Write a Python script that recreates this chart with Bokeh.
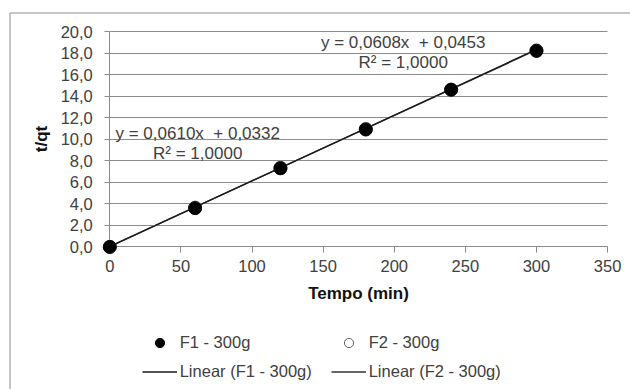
from bokeh.plotting import figure
from bokeh.models import (FixedTicker, Label, Legend, LegendItem, BoxAnnotation,
                          Range1d)
from bokeh.embed import file_html
from bokeh.resources import INLINE

# ---- data ----
tempo = [0, 60, 120, 180, 240, 300]
f1_tqt = [0.0, 3.6, 7.3, 10.9, 14.6, 18.2]
f2_tqt = [0.0, 3.65, 7.35, 10.95, 14.6, 18.25]
series_names = ["F1 - 300g", "F2 - 300g"]
trend_names = ["Linear (F1 - 300g)", "Linear (F2 - 300g)"]
trend_slope = [0.0610, 0.0608]
trend_intercept = [0.0332, 0.0453]
trend_x = [0, 300]
eq_lines = [["y = 0,0610x\u00a0 + 0,0332", "R\u00b2 = 1,0000"],
            ["y = 0,0608x\u00a0 + 0,0453", "R\u00b2 = 1,0000"]]
x_ticks = [0, 50, 100, 150, 200, 250, 300, 350]
y_ticks = [0, 2, 4, 6, 8, 10, 12, 14, 16, 18, 20]
y_tick_labels = ["0,0", "2,0", "4,0", "6,0", "8,0", "10,0", "12,0", "14,0",
                 "16,0", "18,0", "20,0"]
x_label = "Tempo (min)"
y_label = "t/qt"

FONT = "Liberation Sans"
GRID = "#8c8c8c"
TXT = "#404040"

W, H = 630, 389
# pixel layout of the plot area (x=0 -> X0 px, per unit KX; y=0 -> Y0 px, per unit KY)
X0, KX = 109.3, 1.4222
Y0, KY = 246.4, 10.77

p = figure(width=W, height=H, output_backend="svg", toolbar_location=None,
           x_range=Range1d(-X0 / KX, (W - X0) / KX),
           y_range=Range1d(-(H - Y0) / KY, Y0 / KY),
           min_border_left=0, min_border_right=0, min_border_top=0,
           min_border_bottom=0)
p.outline_line_color = None
p.background_fill_color = "white"
p.border_fill_color = "white"

# outer chart border (left/top visible), placed in pixel terms
p.add_layout(BoxAnnotation(left=(9.5 - X0) / KX, top=(Y0 - 12.5) / KY,
                           fill_color=None, fill_alpha=0,
                           line_color="#8c8c8c", line_width=1, line_alpha=1,
                           level="underlay"))

# axes at data zero
for ax in (p.xaxis[0], p.yaxis[0]):
    ax.fixed_location = 0
    ax.level = "underlay"
    ax.axis_line_color = GRID
    ax.major_tick_line_color = GRID
    ax.minor_tick_line_color = None
    ax.major_tick_in = 0
    ax.major_label_text_font = FONT
    ax.major_label_text_font_size = "16.5px"
    ax.major_label_text_color = TXT
    ax.axis_label_text_font = FONT
    ax.axis_label_text_font_style = "bold"
    ax.axis_label_text_font_size = "17px"
    ax.axis_label_text_color = "#111111"

p.xaxis.ticker = FixedTicker(ticks=x_ticks)
p.xaxis.bounds = (x_ticks[0], x_ticks[-1])
p.xaxis.major_tick_out = 6
p.xaxis.major_label_standoff = 7
p.xaxis.axis_label = x_label
p.xaxis.axis_label_standoff = 9

p.yaxis.ticker = FixedTicker(ticks=y_ticks)
p.yaxis.bounds = (y_ticks[0], y_ticks[-1])
p.yaxis.major_tick_out = 5
p.yaxis.major_label_standoff = 12
p.yaxis.major_label_overrides = {t: s for t, s in zip(y_ticks, y_tick_labels)}
p.yaxis.axis_label = y_label
p.yaxis.axis_label_standoff = 6

p.xgrid.grid_line_color = None
p.ygrid.ticker = FixedTicker(ticks=y_ticks)
p.ygrid.grid_line_color = GRID
p.ygrid.cross_bounds = (x_ticks[0], x_ticks[-1])

# trend lines
line_colors = ["#1a1a1a", "#333333"]
trend_renderers = []
for slope, icpt, col in zip(trend_slope, trend_intercept, line_colors):
    ys = [slope * x + icpt for x in trend_x]
    trend_renderers.append(p.line(trend_x, ys, line_color=col, line_width=1.4))
trend_renderers[1].level = "underlay"

r2 = p.scatter(tempo, f2_tqt, size=13, fill_color="white", line_color="#666666",
               line_width=1)
r1 = p.scatter(tempo, f1_tqt, size=13, fill_color="black", line_color="black")

# equation labels
eq_pos = [(61.8, 10.56, 8.70), (206.3, 18.94, 17.08)]
for (cx, y1, y2), lines in zip(eq_pos, eq_lines):
    for yy, t in zip((y1, y2), lines):
        p.add_layout(Label(x=cx, y=yy, text=t, text_align="center",
                           text_baseline="middle", text_font=FONT,
                           text_font_size="17px", text_color=TXT))

# legend: two columns, filled column by column
legend = Legend(items=[
    LegendItem(label=series_names[0], renderers=[r1]),
    LegendItem(label=trend_names[0], renderers=[trend_renderers[0]]),
    LegendItem(label=series_names[1], renderers=[r2]),
    LegendItem(label=trend_names[1], renderers=[trend_renderers[1]]),
], ncols=2, location=(141.7, 6.5))
legend.padding = 0
legend.margin = 0
legend.spacing = 6
legend.glyph_width = 35
legend.glyph_height = 23
legend.label_height = 23
legend.label_width = 145
legend.label_standoff = 3
legend.label_text_font = FONT
legend.label_text_font_size = "16.5px"
legend.label_text_color = TXT
legend.border_line_color = None
legend.background_fill_alpha = 0
p.add_layout(legend, "center")

open("out.html", "w").write(file_html(p, INLINE))
